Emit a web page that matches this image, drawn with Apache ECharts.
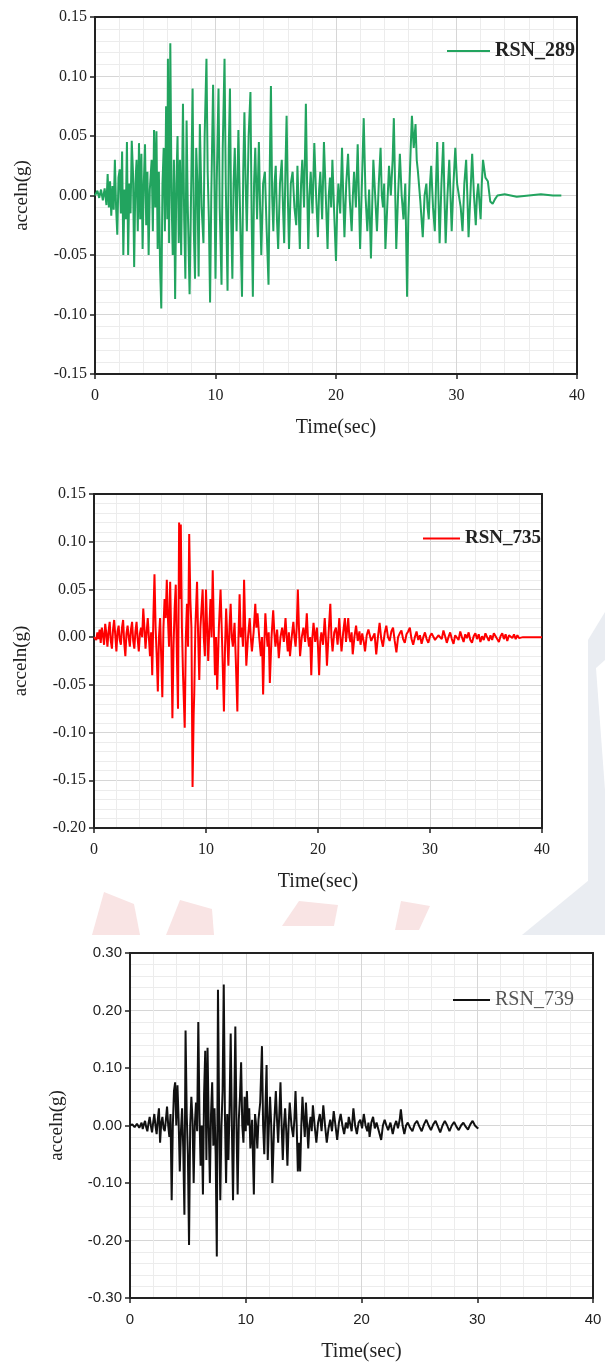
<!DOCTYPE html>
<html><head><meta charset="utf-8">
<script src="https://cdn.jsdelivr.net/npm/echarts@6/dist/echarts.min.js"></script>
<style>html,body{margin:0;padding:0;background:#fff}#c{width:605px;height:1363px}</style>
</head><body><div id="c"></div>
<script>
// RSN_289 (time s, acceleration g)
const t289 = [0,0.2,0.35,0.5,0.65,0.8,0.95,1.05,1.15,1.25,1.35,1.45,1.55,1.65,1.75,1.85,1.95,2.05,2.15,2.25,2.35,2.45,2.55,2.65,2.75,2.85,2.95,3.05,3.15,3.25,3.35,3.45,3.55,3.65,3.75,3.85,3.95,4.05,4.15,4.25,4.35,4.45,4.55,4.7,4.8,4.9,5.0,5.1,5.2,5.3,5.4,5.5,5.6,5.7,5.8,5.9,6.0,6.05,6.15,6.25,6.35,6.45,6.55,6.65,6.75,6.85,6.95,7.05,7.15,7.3,7.4,7.5,7.6,7.7,7.85,8.0,8.1,8.2,8.3,8.4,8.5,8.6,8.7,8.85,9.0,9.1,9.25,9.35,9.45,9.55,9.65,9.8,9.9,10.0,10.1,10.25,10.35,10.5,10.6,10.75,10.85,11.0,11.1,11.2,11.3,11.4,11.5,11.6,11.75,11.9,12.05,12.2,12.3,12.4,12.5,12.6,12.75,12.9,13.0,13.1,13.2,13.3,13.45,13.6,13.7,13.8,13.95,14.1,14.25,14.4,14.5,14.6,14.7,14.8,14.9,15.0,15.1,15.2,15.35,15.5,15.6,15.7,15.8,15.9,16.0,16.1,16.25,16.4,16.55,16.7,16.8,16.9,17.0,17.1,17.2,17.35,17.5,17.6,17.7,17.8,17.9,18.05,18.2,18.35,18.5,18.6,18.7,18.85,19.0,19.15,19.3,19.4,19.5,19.6,19.7,19.85,20.0,20.1,20.2,20.35,20.5,20.6,20.7,20.85,21.0,21.15,21.3,21.4,21.5,21.65,21.8,21.9,22.0,22.15,22.3,22.45,22.6,22.75,22.9,23.0,23.1,23.25,23.4,23.55,23.7,23.8,23.9,24.0,24.1,24.25,24.4,24.55,24.7,24.8,24.9,25.0,25.15,25.3,25.45,25.6,25.75,25.9,26.0,26.1,26.2,26.3,26.45,26.6,26.7,26.8,27.0,27.2,27.35,27.5,27.6,27.7,27.8,27.9,28.05,28.2,28.3,28.4,28.5,28.6,28.75,28.9,29.0,29.1,29.25,29.4,29.5,29.6,29.75,29.9,30.05,30.2,30.35,30.5,30.65,30.8,30.9,31.0,31.15,31.3,31.45,31.6,31.7,31.8,31.9,32.0,32.1,32.2,32.4,32.6,32.8,33.0,33.2,33.4,34.0,35.0,36.0,37.0,38.0,38.7];
const a289 = [0,0.004,-0.002,0.005,-0.004,0.006,-0.008,0.018,-0.010,0.012,-0.017,0.008,-0.012,0.030,-0.010,-0.033,0.015,0.022,-0.015,0.037,-0.050,0.005,-0.020,0.045,-0.050,0.010,-0.015,0.046,0.020,-0.060,0.010,0.030,-0.030,0.044,-0.020,0.035,-0.045,0.010,0.043,-0.025,0.020,-0.050,0.005,0.030,-0.030,0.055,-0.010,0.054,-0.045,0.020,-0.060,-0.095,0.010,0.040,-0.030,0.075,-0.020,0.115,-0.040,0.128,0.000,-0.050,0.030,-0.087,0.010,0.050,-0.040,0.030,-0.050,0.077,-0.020,-0.070,0.063,-0.010,-0.083,0.020,0.090,-0.030,-0.070,0.040,0.010,-0.068,0.060,-0.010,-0.040,0.050,0.115,0.020,-0.020,-0.090,0.000,0.093,0.020,-0.070,0.010,0.090,-0.010,-0.075,0.040,0.115,0.010,-0.080,0.040,0.090,-0.020,-0.070,0.010,0.040,-0.030,0.055,-0.020,-0.085,0.020,0.070,0.010,-0.030,0.050,0.087,-0.020,-0.085,0.010,0.040,-0.020,0.045,-0.010,-0.050,0.010,0.020,-0.030,-0.075,0.020,0.092,0.000,-0.030,0.010,0.025,-0.020,-0.045,0.010,0.030,-0.010,-0.040,0.020,0.067,0.000,-0.045,0.010,0.020,-0.010,-0.025,0.025,-0.010,-0.045,0.010,0.030,-0.010,0.077,0.010,-0.045,0.000,0.020,-0.015,0.044,0.000,-0.035,0.005,0.020,-0.020,0.045,0.000,-0.045,0.000,0.015,-0.010,0.030,-0.015,-0.055,-0.010,0.010,-0.015,0.040,0.000,-0.035,0.010,0.035,-0.005,-0.030,0.000,0.020,-0.010,0.043,0.000,-0.045,0.010,0.065,0.000,-0.030,0.005,-0.053,-0.010,0.030,0.000,-0.030,0.010,0.040,0.000,-0.010,0.010,-0.045,-0.010,0.025,0.000,0.030,0.065,0.010,-0.045,0.000,0.035,0.000,-0.020,0.010,-0.085,-0.020,0.010,0.040,0.067,0.040,0.060,0.030,0.020,-0.005,-0.035,0.000,0.010,-0.010,-0.020,0.010,0.025,-0.010,-0.030,0.010,0.045,0.000,-0.040,0.010,0.045,0.000,-0.040,0.000,0.030,0.000,-0.030,0.010,0.040,0.010,0.000,-0.010,-0.030,0.010,0.030,0.000,-0.035,0.000,0.035,0.000,-0.025,0.000,0.010,-0.005,-0.020,0.010,0.030,0.015,0.012,-0.005,-0.007,-0.003,0.000,0.001,-0.001,0.000,0.001,0.000,0.000];

// RSN_735
const t735 = [0,0.1,0.2,0.3,0.4,0.5,0.6,0.7,0.8,0.9,1.0,1.1,1.2,1.3,1.4,1.5,1.6,1.7,1.8,1.9,2.0,2.1,2.2,2.3,2.4,2.5,2.6,2.7,2.8,2.9,3.0,3.1,3.2,3.3,3.4,3.5,3.6,3.7,3.8,3.9,4.0,4.1,4.2,4.3,4.4,4.5,4.6,4.7,4.8,4.9,5.0,5.1,5.2,5.3,5.4,5.5,5.6,5.7,5.8,5.9,6.0,6.1,6.2,6.3,6.4,6.5,6.6,6.7,6.8,6.9,7.0,7.1,7.2,7.3,7.4,7.5,7.6,7.7,7.75,7.85,7.95,8.1,8.2,8.3,8.4,8.5,8.6,8.7,8.8,8.9,8.95,9.05,9.2,9.3,9.4,9.5,9.6,9.7,9.8,9.9,10.0,10.1,10.2,10.3,10.4,10.5,10.6,10.7,10.8,10.9,11.0,11.15,11.3,11.45,11.6,11.7,11.8,11.9,12.0,12.1,12.2,12.3,12.4,12.55,12.65,12.8,12.9,13.0,13.1,13.2,13.3,13.4,13.5,13.6,13.75,13.9,14.0,14.1,14.25,14.4,14.5,14.6,14.75,14.9,15.0,15.1,15.2,15.3,15.4,15.5,15.6,15.7,15.85,16.0,16.1,16.2,16.35,16.5,16.65,16.8,16.95,17.1,17.2,17.3,17.4,17.5,17.65,17.8,17.9,18.0,18.1,18.2,18.3,18.4,18.55,18.7,18.85,19.0,19.1,19.2,19.3,19.4,19.5,19.6,19.75,19.9,20.0,20.1,20.2,20.3,20.45,20.6,20.7,20.8,20.95,21.1,21.2,21.3,21.45,21.6,21.75,21.9,22.0,22.1,22.25,22.4,22.5,22.7,22.8,22.9,23.0,23.1,23.25,23.4,23.55,23.7,23.8,23.95,24.1,24.2,24.35,24.5,24.6,24.75,24.9,25.05,25.2,25.35,25.5,25.65,25.8,25.95,26.1,26.25,26.4,26.55,26.7,26.85,27.0,27.15,27.3,27.45,27.6,27.75,27.9,28.05,28.2,28.35,28.5,28.65,28.8,28.95,29.1,29.25,29.4,29.55,29.7,29.85,30.0,30.15,30.3,30.45,30.6,30.75,30.9,31.05,31.2,31.35,31.5,31.65,31.8,31.95,32.1,32.25,32.4,32.55,32.7,32.85,33.0,33.15,33.3,33.45,33.6,33.75,33.9,34.05,34.2,34.35,34.5,34.65,34.8,34.95,35.1,35.25,35.4,35.55,35.7,35.85,36.0,36.15,36.3,36.45,36.6,36.75,36.9,37.05,37.2,37.35,37.5,37.65,37.8,37.95,38.1,38.3,40.0];
const a735 = [0,0.002,-0.003,0.005,-0.002,0.008,-0.006,0.010,0.002,-0.008,0.014,0.004,-0.010,0.006,0.016,-0.004,-0.012,0.008,0.018,0.002,-0.015,0.006,0.012,-0.003,-0.008,0.010,0.018,-0.006,-0.020,0.004,0.012,0.000,-0.010,0.008,0.016,-0.004,-0.012,0.006,0.016,-0.002,-0.015,0.004,0.010,0.000,0.030,0.010,-0.012,0.005,0.020,0.000,-0.020,0.005,-0.040,0.020,0.066,0.010,-0.020,-0.057,0.000,0.020,-0.020,-0.063,0.010,0.040,0.020,0.060,0.020,-0.010,0.058,0.000,-0.085,-0.010,0.030,0.055,-0.020,-0.075,0.120,0.040,0.118,0.010,-0.040,-0.095,0.000,0.035,-0.010,0.108,0.040,0.010,-0.157,-0.080,-0.060,0.010,0.058,0.000,-0.045,0.010,0.030,0.050,0.000,-0.020,0.050,0.010,-0.025,0.010,0.040,0.000,0.070,0.010,-0.040,0.000,-0.055,0.010,0.050,-0.010,-0.078,-0.010,0.030,0.000,-0.030,0.010,0.035,0.000,-0.010,0.015,-0.020,-0.078,0.000,0.045,0.000,0.010,-0.010,0.060,0.010,-0.030,0.000,0.020,0.000,-0.015,0.005,0.035,0.010,0.025,0.000,-0.020,0.000,-0.060,-0.010,0.025,0.005,-0.010,0.005,-0.048,0.000,0.028,0.005,-0.010,0.008,-0.022,0.000,0.010,-0.005,0.020,0.000,-0.015,0.005,-0.020,0.000,0.016,0.000,-0.010,0.010,0.050,0.010,-0.020,0.000,0.010,-0.005,0.025,0.000,-0.010,0.000,-0.040,0.000,0.015,-0.005,0.010,-0.010,-0.040,-0.005,0.005,-0.008,0.020,0.000,-0.030,0.005,0.035,0.000,-0.015,0.005,0.010,-0.008,0.020,0.000,-0.015,0.005,0.020,-0.005,0.020,0.000,-0.005,0.005,-0.018,0.000,0.012,-0.004,0.006,-0.008,0.004,-0.006,-0.015,0.002,0.008,0.010,-0.004,-0.005,0.004,-0.018,0.000,0.015,-0.002,-0.010,0.004,0.012,0.000,-0.004,0.006,0.010,-0.004,-0.016,0.000,0.004,0.007,-0.002,-0.006,0.003,0.006,0.010,-0.002,-0.008,0.000,0.006,-0.003,0.002,-0.007,0.000,0.005,-0.002,-0.006,0.001,0.004,0.006,-0.003,-0.005,0.002,0.004,-0.002,0.007,0.001,-0.006,0.000,0.005,-0.002,-0.007,0.002,0.003,-0.003,0.006,0.000,-0.005,0.003,-0.001,0.005,-0.003,-0.006,0.001,0.004,-0.002,0.003,-0.005,0.001,-0.003,0.004,0.000,-0.004,0.002,-0.003,0.004,0.006,-0.002,-0.005,0.001,0.004,-0.002,0.003,-0.004,0.002,0.004,-0.001,0.003,-0.002,0.002,-0.001,0.000,0.000,0.000];

// RSN_739
const t739 = [0,0.2,0.4,0.6,0.8,1.0,1.1,1.2,1.3,1.4,1.5,1.6,1.7,1.8,1.9,2.0,2.1,2.2,2.3,2.4,2.5,2.6,2.7,2.8,2.9,3.0,3.1,3.2,3.3,3.4,3.5,3.6,3.7,3.8,3.9,4.0,4.1,4.2,4.3,4.4,4.5,4.6,4.7,4.8,4.9,5.0,5.1,5.2,5.3,5.4,5.5,5.6,5.7,5.8,5.9,6.0,6.1,6.2,6.3,6.4,6.5,6.6,6.7,6.8,6.9,7.0,7.1,7.2,7.3,7.4,7.5,7.6,7.7,7.8,7.9,8.0,8.1,8.2,8.3,8.4,8.5,8.6,8.7,8.8,8.9,9.0,9.1,9.2,9.3,9.4,9.5,9.6,9.7,9.8,9.9,10.0,10.1,10.2,10.3,10.4,10.55,10.7,10.8,10.9,11.0,11.1,11.25,11.4,11.5,11.6,11.7,11.8,11.9,12.0,12.1,12.2,12.3,12.45,12.6,12.7,12.8,12.9,13.0,13.1,13.2,13.3,13.4,13.5,13.6,13.7,13.8,13.95,14.1,14.2,14.3,14.4,14.5,14.6,14.7,14.8,14.9,15.0,15.1,15.2,15.3,15.4,15.5,15.6,15.7,15.8,15.95,16.1,16.25,16.4,16.55,16.7,16.85,17.0,17.15,17.3,17.45,17.6,17.75,17.9,18.05,18.2,18.35,18.5,18.65,18.8,18.9,19.05,19.15,19.3,19.45,19.6,19.75,19.9,20.05,20.2,20.35,20.5,20.6,20.7,20.85,21.0,21.15,21.3,21.5,21.7,21.85,22.0,22.15,22.3,22.5,22.7,22.85,23.0,23.15,23.3,23.4,23.55,23.7,23.85,24.0,24.2,24.4,24.6,24.8,25.0,25.2,25.4,25.6,25.8,26.0,26.2,26.4,26.6,26.8,27.0,27.2,27.4,27.6,27.8,28.0,28.2,28.4,28.6,28.8,29.0,29.2,29.4,29.6,29.8,30.0,30.1];
const a739 = [0,0.002,-0.003,0.003,-0.004,0.005,-0.006,0.002,0.008,-0.003,-0.010,0.004,0.015,0.000,-0.012,0.005,0.020,0.000,-0.015,0.010,0.030,-0.030,0.005,0.015,-0.005,-0.010,0.010,0.033,0.000,-0.020,0.020,-0.130,0.000,0.060,0.075,0.000,0.070,0.010,-0.080,-0.010,0.030,-0.040,-0.155,0.165,0.020,-0.050,-0.208,0.000,0.050,0.010,-0.100,0.000,0.040,-0.010,0.180,0.020,-0.070,0.000,-0.120,0.055,0.130,-0.060,0.135,0.000,-0.100,0.020,0.075,-0.035,0.030,-0.050,-0.228,0.236,0.020,-0.130,0.000,0.060,0.245,0.020,-0.100,0.020,-0.060,0.030,0.160,0.000,-0.130,0.020,0.172,0.000,-0.120,0.010,0.050,0.110,0.000,-0.030,0.050,-0.010,0.060,0.000,0.030,-0.040,0.010,-0.120,0.020,0.000,-0.040,0.010,0.040,0.138,0.000,-0.050,0.030,0.105,-0.060,0.000,0.050,0.000,-0.100,0.000,0.060,0.010,-0.030,0.020,0.075,0.000,-0.060,0.000,0.030,-0.010,-0.070,0.000,0.040,0.000,-0.020,0.010,0.060,0.000,-0.080,-0.030,-0.080,0.000,0.050,0.010,-0.020,0.040,0.000,-0.040,0.000,0.015,-0.010,0.035,0.000,-0.030,0.005,0.020,-0.010,0.035,0.000,-0.030,-0.005,0.010,-0.010,0.025,0.000,-0.025,0.005,0.020,0.000,-0.015,0.005,-0.005,0.015,0.000,-0.010,0.030,0.000,-0.015,0.005,0.010,-0.005,0.020,0.000,-0.010,0.005,-0.020,0.005,0.015,-0.005,0.005,-0.010,-0.025,0.000,0.010,0.000,-0.008,0.005,-0.015,0.000,0.008,-0.005,0.010,0.028,0.000,-0.015,0.000,0.005,-0.004,-0.010,0.003,0.008,-0.002,-0.010,0.002,0.010,0.000,-0.008,0.002,0.008,-0.002,-0.012,0.000,0.008,0.000,-0.010,0.000,0.006,-0.002,-0.008,0.000,0.005,-0.002,-0.007,0.002,0.008,0.000,-0.004,-0.005];

const xTicks = [0, 40, 10];              // min, max, interval
const yRanges = [[-0.15, 0.15, 0.05], [-0.20, 0.15, 0.05], [-0.30, 0.30, 0.10]];
const names = ['RSN_289', 'RSN_735', 'RSN_739'];
const colors = ['#22a45f', '#ff0000', '#111111'];

const zip = (t, a) => t.map((v, i) => [v, a[i]]);
const seriesData = [zip(t289, a289), zip(t735, a735), zip(t739, a739)];

const grids = [
  {left: 95, top: 17, width: 482, height: 357},
  {left: 94, top: 494, width: 448, height: 334},
  {left: 130, top: 953, width: 463, height: 346}
];
const SERIF = '"Liberation Serif", "Times New Roman", serif';
const SANS = '"Liberation Sans", Arial, sans-serif';
const tickFont = [SERIF, SERIF, SANS];
const tickSize = [16, 16, 15];

const baseX = grids.map((g, i) => ({
  type: 'value', gridIndex: i, min: xTicks[0], max: xTicks[1], interval: xTicks[2],
  name: 'Time(sec)', nameLocation: 'middle', nameGap: 44,
  nameTextStyle: {fontFamily: SERIF, fontSize: 20, color: '#222'},
  axisLine: {show: true, onZero: false, lineStyle: {color: '#222', width: 2}},
  axisTick: {show: true, inside: false, length: 5, lineStyle: {color: '#222', width: 1.5}},
  axisLabel: {fontFamily: tickFont[i], fontSize: tickSize[i], color: '#222', margin: 14},
  splitLine: {show: true, lineStyle: {color: '#d6d6d6', width: 1}},
  minorTick: {show: false, splitNumber: 5},
  minorSplitLine: {show: true, lineStyle: {color: '#ececec', width: 1}}
}));
const frameX = grids.map((g, i) => ({
  type: 'value', gridIndex: i, position: 'top', min: xTicks[0], max: xTicks[1], interval: xTicks[2],
  axisLine: {show: true, onZero: false, lineStyle: {color: '#222', width: 2}},
  axisTick: {show: false}, axisLabel: {show: false}, splitLine: {show: false}
}));
const baseY = grids.map((g, i) => ({
  type: 'value', gridIndex: i, min: yRanges[i][0], max: yRanges[i][1], interval: yRanges[i][2],
  name: 'acceln(g)', nameLocation: 'middle', nameGap: 63, nameRotate: 90,
  nameTextStyle: {fontFamily: SERIF, fontSize: 19, color: '#222'},
  axisLine: {show: true, onZero: false, lineStyle: {color: '#222', width: 2}},
  axisTick: {show: true, inside: false, length: 5, lineStyle: {color: '#222', width: 1.5}},
  axisLabel: {fontFamily: tickFont[i], fontSize: tickSize[i], color: '#222', margin: 8, formatter: v => v.toFixed(2)},
  splitLine: {show: true, lineStyle: {color: '#d6d6d6', width: 1}},
  minorTick: {show: false, splitNumber: 5},
  minorSplitLine: {show: true, lineStyle: {color: '#ececec', width: 1}}
}));
const frameY = grids.map((g, i) => ({
  type: 'value', gridIndex: i, position: 'right', min: yRanges[i][0], max: yRanges[i][1], interval: yRanges[i][2],
  axisLine: {show: true, onZero: false, lineStyle: {color: '#222', width: 2}},
  axisTick: {show: false}, axisLabel: {show: false}, splitLine: {show: false}
}));

const legendSpec = [
  {left: 447, top: 41, itemWidth: 43, fontSize: 20, color: '#222', fontWeight: 'bold'},
  {left: 423, top: 529, itemWidth: 37, fontSize: 19, color: '#222', fontWeight: 'bold'},
  {left: 453, top: 990, itemWidth: 37, fontSize: 20, color: '#555', fontWeight: 'normal'}
];

const wm = (pts, fill) => ({type: 'polygon', z: -10, silent: true, shape: {points: pts}, style: {fill: fill}});

const option = {
  animation: false,
  backgroundColor: '#fff',
  graphic: [
    wm([[588, 640], [605, 612], [605, 905], [588, 905]], '#eaedf2'),
    wm([[596, 668], [605, 660], [605, 790]], '#ffffff'),
    wm([[522, 935], [594, 876], [605, 876], [605, 935]], '#eaedf2'),
    wm([[92, 935], [104, 892], [134, 904], [140, 935]], '#f9e4e4'),
    wm([[166, 935], [180, 900], [212, 909], [214, 935]], '#f9e4e4'),
    wm([[282, 926], [299, 901], [338, 905], [334, 926]], '#f9e4e4'),
    wm([[395, 930], [401, 901], [430, 906], [419, 930]], '#f9e4e4')
  ],
  grid: grids.map(g => Object.assign({show: true, borderWidth: 0, backgroundColor: '#fff'}, g)),
  xAxis: baseX.concat(frameX),
  yAxis: baseY.concat(frameY),
  legend: legendSpec.map((l, i) => ({
    data: [names[i]], left: l.left, top: l.top, padding: 0,
    icon: 'rect', itemWidth: l.itemWidth, itemHeight: 2, itemGap: 3,
    textStyle: {fontFamily: SERIF, fontSize: l.fontSize, color: l.color, fontWeight: l.fontWeight}
  })),
  series: seriesData.map((d, i) => ({
    type: 'line', name: names[i], xAxisIndex: i, yAxisIndex: i, data: d,
    showSymbol: false, symbol: 'none', lineStyle: {color: colors[i], width: 2}, itemStyle: {color: colors[i]}
  }))
};
const chart = echarts.init(document.getElementById('c'), null, {renderer: 'canvas'});
chart.setOption(option);
</script>
</body></html>
